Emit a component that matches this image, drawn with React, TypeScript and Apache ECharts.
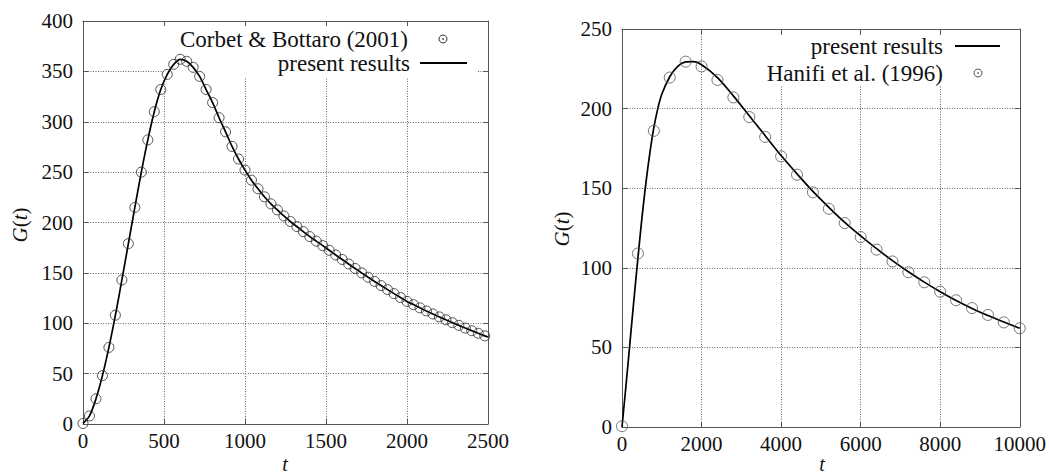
import React, { useEffect, useRef } from "react";
import * as echarts from "echarts";

const FONT = "'Liberation Serif', 'DejaVu Serif', serif";

// Left panel: Corbet & Bottaro (2001) circles and present results line
const leftT = [0, 40, 80, 120, 160, 200, 240, 280, 320, 360, 400, 440, 480, 520, 560, 600, 640, 680, 720, 760, 800, 840, 880, 920, 960, 1000, 1040, 1080, 1120, 1160, 1200, 1240, 1280, 1320, 1360, 1400, 1440, 1480, 1520, 1560, 1600, 1640, 1680, 1720, 1760, 1800, 1840, 1880, 1920, 1960, 2000, 2040, 2080, 2120, 2160, 2200, 2240, 2280, 2320, 2360, 2400, 2440, 2480];
const leftG = [0.5, 8, 25, 48, 76, 108, 143, 179, 215, 250, 282, 310, 332, 347, 357, 362, 360, 354, 345, 332, 319, 304, 290, 275.5, 263, 252, 242, 233.5, 225.5, 218.5, 212.5, 206.5, 201, 196, 191, 186, 181.5, 177, 172.4, 167.8, 163.3, 158.8, 154.4, 150, 145.7, 141.5, 137.4, 133.4, 129.4, 125.5, 121.7, 118.5, 115.3, 112.2, 109.2, 106.3, 103.4, 100.6, 97.9, 95.2, 92.6, 90, 87.5];
const leftLineEndT = [2500];
const leftLineEndG = [86.3];

// Right panel: Hanifi et al. (1996) circles and present results line
const rightDataT = [0, 400, 800, 1200, 1600, 2000, 2400, 2800, 3200, 3600, 4000, 4400, 4800, 5200, 5600, 6000, 6400, 6800, 7200, 7600, 8000, 8400, 8800, 9200, 9600, 10000];
const rightDataG = [0.5, 109, 186, 219.5, 229.5, 226.5, 218, 207, 194.7, 182.2, 170, 158.5, 147.4, 137.1, 128.1, 119.3, 111.4, 104, 97.2, 90.9, 85, 79.6, 74.7, 70.4, 65.7, 62];
const rightLineT = [0, 100, 200, 300, 400, 500, 600, 700, 800, 900, 1000, 1200, 1400, 1600, 1800, 2000, 2400, 2800, 3200, 3600, 4000, 4400, 4800, 5200, 5600, 6000, 6400, 6800, 7200, 7600, 8000, 8400, 8800, 9200, 9600, 10000];
const rightLineG = [0, 26, 53, 80, 106, 131, 153, 172, 188, 200, 209, 220, 226.5, 229.3, 229.5, 227.5, 219.5, 208, 195.5, 183, 170.5, 159, 148, 138, 128.5, 120, 112, 104.5, 97.5, 91, 85, 79.5, 74.5, 70, 66, 62];

const leftLegend = ["Corbet & Bottaro (2001)", "present results"];
const rightLegend = ["present results", "Hanifi et al. (1996)"];

const frame = { color: "#555", width: 1 };
const plainNumber = (v: number) => String(v);

function xAxes(gridIndex: number, max: number, interval: number) {
  return [
    {
      type: "value", gridIndex, min: 0, max, interval, position: "bottom",
      axisLine: { show: true, onZero: false, lineStyle: frame },
      axisTick: { show: true, inside: true, length: 5, lineStyle: frame },
      axisLabel: { fontFamily: FONT, fontSize: 21, color: "#111", margin: 6, formatter: plainNumber },
      splitLine: { show: true, lineStyle: { type: [1, 1.5], color: "#666", width: 1 } },
    },
    {
      type: "value", gridIndex, min: 0, max, interval, position: "top",
      axisLine: { show: true, onZero: false, lineStyle: frame },
      axisTick: { show: true, inside: true, length: 5, lineStyle: frame },
      axisLabel: { show: false },
      splitLine: { show: false },
    },
  ];
}

function yAxes(gridIndex: number, max: number, interval: number) {
  return [
    {
      type: "value", gridIndex, min: 0, max, interval, position: "left",
      axisLine: { show: true, onZero: false, lineStyle: frame },
      axisTick: { show: true, inside: true, length: 5, lineStyle: frame },
      axisLabel: { fontFamily: FONT, fontSize: 21, color: "#111", margin: 10, formatter: plainNumber },
      splitLine: { show: true, lineStyle: { type: [1, 1.5], color: "#666", width: 1 } },
    },
    {
      type: "value", gridIndex, min: 0, max, interval, position: "right",
      axisLine: { show: true, onZero: false, lineStyle: frame },
      axisTick: { show: true, inside: true, length: 5, lineStyle: frame },
      axisLabel: { show: false },
      splitLine: { show: false },
    },
  ];
}

function zip(a: number[], b: number[]) {
  return a.map((v, i) => [v, b[i]]);
}

function legendText(text: string, x: number, y: number) {
  return {
    type: "text", z: 5, x, y,
    style: { text, fontFamily: FONT, fontSize: 23, fill: "#111", align: "right", verticalAlign: "middle" },
  };
}
function legendLine(x1: number, x2: number, y: number) {
  return { type: "line", z: 5, shape: { x1, y1: y, x2, y2: y }, style: { stroke: "#000", lineWidth: 1.8 } };
}
function legendCircle(cx: number, cy: number, color: string) {
  return [
    { type: "circle", z: 5, shape: { cx, cy, r: 4 }, style: { fill: "none", stroke: color, lineWidth: 1 } },
    { type: "circle", z: 5, shape: { cx, cy, r: 0.8 }, style: { fill: color } },
  ];
}
function yName(x: number, y: number) {
  return {
    type: "text", z: 5, x, y, rotation: Math.PI / 2,
    style: {
      text: "{i|G}({i|t})", fontFamily: FONT, fontSize: 21, fill: "#111",
      align: "center", verticalAlign: "middle",
      rich: { i: { fontFamily: FONT, fontSize: 21, fontStyle: "italic", fill: "#111" } },
    },
  };
}
function xName(x: number, y: number) {
  return {
    type: "text", z: 5, x, y,
    style: { text: "t", fontFamily: FONT, fontSize: 20, lineHeight: 20, fontStyle: "italic", fill: "#111", align: "center", verticalAlign: "bottom" },
  };
}

export default function App() {
  const ref = useRef<HTMLDivElement>(null);
  useEffect(() => {
    document.body.style.margin = "0";
    const chart = echarts.init(ref.current!, null, { renderer: "svg" });
    const option: any = {
      animation: false,
      backgroundColor: "#fff",
      textStyle: { fontFamily: FONT },
      grid: [
        { left: 83, top: 21, width: 405, height: 403 },
        { left: 622, top: 29, width: 399, height: 398 },
      ],
      xAxis: [...xAxes(0, 2500, 500), ...xAxes(1, 10000, 2000)],
      yAxis: [...yAxes(0, 400, 50), ...yAxes(1, 250, 50)],
      series: [
        {
          type: "line", xAxisIndex: 0, yAxisIndex: 0, z: 3, smooth: 0.3, symbol: "none",
          lineStyle: { color: "#000", width: 1.7 },
          data: [...zip(leftT, leftG), ...zip(leftLineEndT, leftLineEndG)],
        },
        {
          type: "scatter", xAxisIndex: 0, yAxisIndex: 0, z: 4, symbol: "circle", symbolSize: 10,
          itemStyle: { color: "rgba(0,0,0,0)", borderColor: "#2a2a2a", borderWidth: 1 },
          data: zip(leftT, leftG),
        },
        {
          type: "line", xAxisIndex: 2, yAxisIndex: 2, z: 3, smooth: 0.3, symbol: "none",
          lineStyle: { color: "#000", width: 1.7 },
          data: zip(rightLineT, rightLineG),
        },
        {
          type: "scatter", xAxisIndex: 2, yAxisIndex: 2, z: 4, symbol: "circle", symbolSize: 11,
          itemStyle: { color: "rgba(0,0,0,0)", borderColor: "#555", borderWidth: 1 },
          data: zip(rightDataT, rightDataG),
        },
      ],
      graphic: {
        elements: [
          { type: "rect", z: 1, shape: { x: 164, y: 26, width: 313, height: 51 }, style: { fill: "#fff" } },
          { type: "rect", z: 1, shape: { x: 750, y: 35, width: 264, height: 50 }, style: { fill: "#fff" } },
          legendText(leftLegend[0], 408, 39),
          ...legendCircle(443, 39, "#333"),
          legendText(leftLegend[1], 410, 63),
          legendLine(420, 467, 63),
          legendText(rightLegend[0], 943, 46),
          legendLine(955, 1000, 46),
          legendText(rightLegend[1], 943, 73),
          ...legendCircle(978, 73, "#555"),
          yName(20, 225),
          yName(562, 229),
          xName(285, 474),
          xName(822, 474),
        ],
      },
    };
    chart.setOption(option);
    return () => chart.dispose();
  }, []);
  return (
    <div
      ref={ref}
      style={{ position: "absolute", left: 0, top: 0, width: 1049, height: 474, background: "#fff" }}
    />
  );
}
